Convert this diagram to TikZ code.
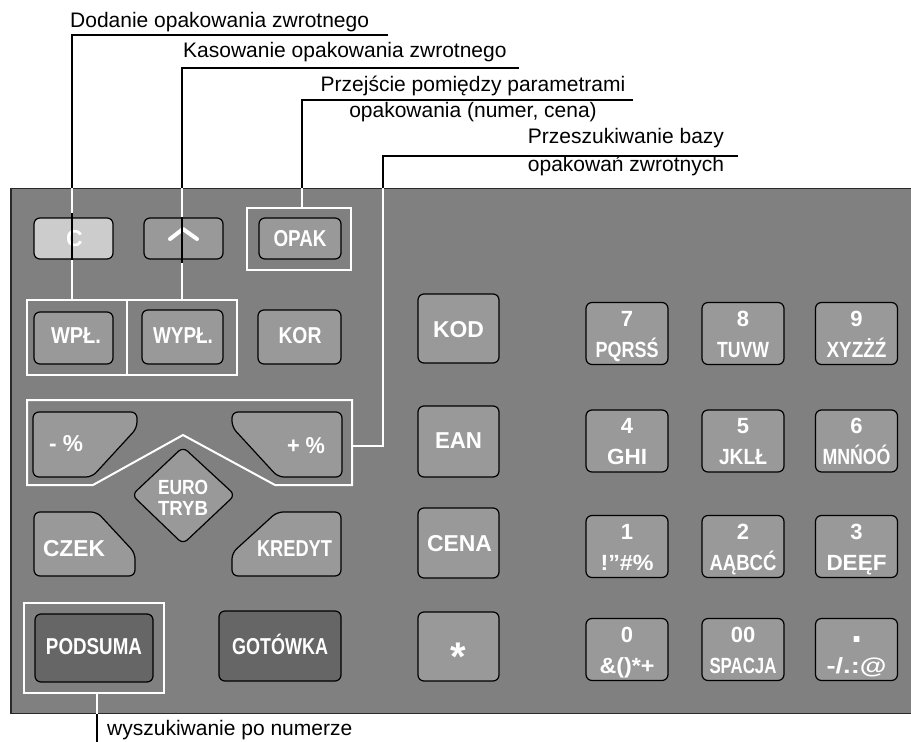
\documentclass[tikz,border=0pt]{standalone}
\usepackage{graphicx}
\usepackage{fontspec}
\setmainfont{Liberation Sans}
\usetikzlibrary{calc}
\newcommand\wbox[2]{\resizebox{#1}{\height}{#2}}
\definecolor{panelc}{HTML}{808080}
\definecolor{keyc}{HTML}{999999}
\definecolor{lightk}{HTML}{CCCCCC}
\definecolor{darkk}{HTML}{666666}
\definecolor{edgec}{HTML}{2A2A2A}
\tikzset{
  key/.style={draw=black, line width=1.2pt, rounded corners=6pt, fill=keyc, inner sep=0pt},
  keytxt/.style={text=white, font=\fontsize{23}{26}\selectfont\bfseries, inner sep=0pt, anchor=base},
  midtxt/.style={keytxt, font=\fontsize{23}{26}\selectfont\bfseries},
  digtxt/.style={keytxt, font=\fontsize{22}{25}\selectfont\bfseries},
  lettxt/.style={keytxt, font=\fontsize{22}{25}\selectfont\bfseries},
  frame/.style={draw=white, line width=2pt, inner sep=0pt, fill=none},
  lead/.style={line width=2pt, draw=black},
  leadw/.style={line width=2pt, draw=white},
  lbl/.style={font=\fontsize{21}{25}\selectfont, inner sep=0pt, anchor=base},
}
\newcommand\numkey[6]{%
  \node[key, minimum width=82pt, minimum height=62pt] (#1) at (#2,#3) {};
  \node[digtxt] (#1d) at ($(#1.center)+(0,-7.5)$) {#4};
  \node[lettxt] (#1l) at ($(#1.center)+(0,23.5)$) {\wbox{#6pt}{#5}};
}
\begin{document}
\begin{tikzpicture}[x=1pt,y=-1pt]
\useasboundingbox (0,0) rectangle (911,742);
% panel
\node[draw=edgec, line width=1.6pt, fill=panelc, minimum width=910pt, minimum height=525pt, inner sep=0pt, anchor=north west] (panel) at (10,187.5) {};

% top labels
\node[lbl, anchor=base west] (t1) at (70,27) {Dodanie opakowania zwrotnego};
\coordinate (c1) at (72,35);
\coordinate (c1e) at (388,35);
\node[lbl, anchor=base west] (t2) at (183,57) {Kasowanie opakowania zwrotnego};
\coordinate (c2) at (182,68);
\coordinate (c2e) at (519,68);
\node[lbl] (t3a) at (473,91) {Przejście pomiędzy parametrami};
\node[lbl] (t3b) at (473,117) {opakowania (numer, cena)};
\coordinate (c3) at (302,100);
\coordinate (c3e) at (633,100);
\node[lbl] (t4a) at (626,143) {Przeszukiwanie bazy};
\node[lbl] (t4b) at (626,171) {opakowań zwrotnych};
\coordinate (c4) at (383,156);
\coordinate (c4e) at (738,156);
\node[lbl, anchor=base west] (t5) at (107,735) {wyszukiwanie po numerze};
\coordinate (c5) at (97,742);

% frames
\node[frame, minimum width=104pt, minimum height=62pt] (fopak) at (299,239) {};
\node[frame, minimum width=210pt, minimum height=75pt] (fwp) at (132,337.5) {};
\coordinate (fdiv) at (127,300);
\node[frame, minimum width=140pt, minimum height=90pt] (fpod) at (94,648) {};
\draw[frame] (27,400) -- (352,400) -- (352,485) -- (275,485) -- (183,435) -- (93,485) -- (27,485) -- cycle;
\coordinate (fproc) at (352,446);

% leader lines (black outside the panel, white on it)
\draw[lead] (c1e) -- (c1) -- (c1 |- panel.north);
\draw[leadw] (c1 |- panel.north) -- (c1 |- fwp.north);
\draw[lead] (c2e) -- (c2) -- (c2 |- panel.north);
\draw[leadw] (c2 |- panel.north) -- (c2 |- fwp.north);
\draw[lead] (c3e) -- (c3) -- (c3 |- panel.north);
\draw[leadw] (c3 |- panel.north) -- (c3 |- fopak.north);
\draw[lead] (c4e) -- (c4) -- (c4 |- panel.north);
\draw[leadw] (c4 |- panel.north) -- (c4 |- fproc) -- (fproc);
\draw[leadw] (fpod.south -| c5) -- (c5 |- panel.south);
\draw[lead] (c5 |- panel.south) -- (c5);
\draw[frame] (fdiv) -- (fdiv |- fwp.south);

% top row keys
\node[key, fill=lightk, minimum width=79pt, minimum height=41pt] (kc) at (73.5,238.5) {};
\node[keytxt] (kct) at (74.5,246) {C};
\node[key, minimum width=79pt, minimum height=41pt] (kup) at (183.5,238.5) {};
\draw[white, line width=4pt, line cap=round, line join=round] (170,239) -- (183,229) -- (197,239);
\draw[lead] (c1 |- 0,213) -- (c1 |- kc.south);
\draw[lead] (c2 |- kup.north) -- (c2 |- 0,263);
\node[key, minimum width=82pt, minimum height=41pt] (kopak) at (300,238.5) {};
\node[keytxt] (kopakt) at (300,246) {\wbox{53pt}{OPAK}};

% second row
\node[key, minimum width=79pt, minimum height=52pt] (kwp) at (73.5,338) {};
\node[keytxt] (kwpt) at (76,343) {\wbox{50pt}{WPŁ.}};
\node[key, minimum width=81pt, minimum height=54pt] (kwyp) at (182.5,337) {};
\node[keytxt] (kwypt) at (183,343) {\wbox{60pt}{WYPŁ.}};
\node[key, minimum width=83pt, minimum height=54pt] (kkor) at (299.5,337) {};
\node[keytxt] (kkort) at (300,343) {\wbox{43pt}{KOR}};

% percent keys
\draw[key] (33,412) -- (137,412) -- (137,428) -- (92,477) -- (33,477) -- cycle;
\node[keytxt] (kminus) at (66,451) {\wbox{34pt}{- \%}};
\draw[key] (232,412) -- (342,412) -- (342,477) -- (278,477) -- (232,427) -- cycle;
\node[keytxt] (kplus) at (306,453) {\wbox{38pt}{+ \%}};
% euro diamond
\draw[key] (132,495) -- (183,447) -- (235,495) -- (183,544) -- cycle;
\node[keytxt, font=\fontsize{20.5}{22}\selectfont\bfseries] (keuro) at (183,494) {\wbox{50pt}{EURO}};
\node[keytxt, font=\fontsize{20.5}{22}\selectfont\bfseries] (ktryb) at (183,515) {\wbox{50pt}{TRYB}};
% czek / kredyt
\draw[key] (34,512) -- (97,512) -- (135,553) -- (135,576) -- (34,576) -- cycle;
\node[keytxt] (kczek) at (74,556) {\wbox{62pt}{CZEK}};
\draw[key] (232,553) -- (277,512) -- (341,512) -- (341,576) -- (232,576) -- cycle;
\node[keytxt] (kkred) at (294.5,556) {\wbox{75pt}{KREDYT}};
% bottom left keys
\node[key, fill=darkk, minimum width=118pt, minimum height=68pt] (kpod) at (94,648) {};
\node[keytxt] (kpodt) at (94,654) {\wbox{96pt}{PODSUMA}};
\node[key, fill=darkk, minimum width=122pt, minimum height=70pt] (kgot) at (280,646) {};
\node[keytxt] (kgott) at (280,654) {\wbox{96pt}{GOTÓWKA}};

% middle column
\node[key, minimum width=81pt, minimum height=69pt] (kkod) at (458.5,328.5) {};
\node[midtxt] (kkodt) at (458.5,337) {\wbox{51pt}{KOD}};
\node[key, minimum width=81pt, minimum height=71pt] (kean) at (458.5,441.5) {};
\node[midtxt] (keant) at (458.5,448) {\wbox{47pt}{EAN}};
\node[key, minimum width=81pt, minimum height=70pt] (kcena) at (458.5,543) {};
\node[midtxt] (kcenat) at (459.5,551) {\wbox{65pt}{CENA}};
\node[key, minimum width=81pt, minimum height=69pt] (kstar) at (458.5,646.5) {};
\node[keytxt, font=\fontsize{40}{40}\selectfont\bfseries] (kstart) at (458.5,670) {*};

% numeric keypad
\numkey{k7}{627}{333.5}{7}{PQRSŚ}{63}
\numkey{k8}{743}{333.5}{8}{TUVW}{52}
\numkey{k9}{856.5}{333.5}{9}{XYZŻŹ}{60}
\numkey{k4}{627}{441}{4}{GHI}{40}
\numkey{k5}{743}{441}{5}{JKLŁ}{48}
\numkey{k6}{856.5}{441}{6}{MNŃOÓ}{68}
\numkey{k1}{627}{546.5}{1}{!”\#\%}{53}
\numkey{k2}{743}{546.5}{2}{AĄBCĆ}{67}
\numkey{k3}{856.5}{546.5}{3}{DEĘF}{60}
\numkey{k0}{627}{649.5}{0}{\&()*+}{55}
\numkey{k00}{743}{649.5}{00}{SPACJA}{67}
\node[key, minimum width=82pt, minimum height=62pt] (kdot) at (856.5,649.5) {};
\node[keytxt, font=\fontsize{40}{40}\selectfont\bfseries] (kdotd) at (857,642) {.};
\node[lettxt] (kdotl) at ($(kdot.center)+(0,23.5)$) {\wbox{60pt}{-/.:@}};
\end{tikzpicture}
\end{document}
